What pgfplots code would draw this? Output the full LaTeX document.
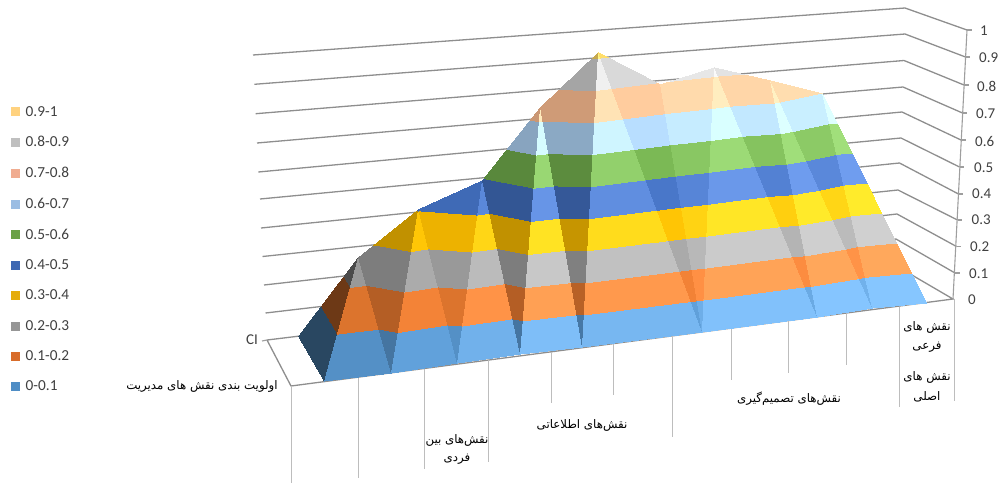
\documentclass[border=0pt]{standalone}
\usepackage{fontspec}
\setmainfont{Carlito}
\newfontfamily\arabicfont[Script=Arabic]{DejaVu Sans}
\TeXXeTstate=1
\usepackage{pgfplots}
\pgfplotsset{compat=1.18}
\definecolor{gridc}{HTML}{8E8E8E}
\definecolor{dropc}{HTML}{BDBDBD}
\definecolor{txt}{HTML}{404040}
\makeatletter
\def\addc#1#2#3#4{%
 \pgfmathtruncatemacro\cR{min(255,#2*\cmM+\cmA)}%
 \pgfmathtruncatemacro\cG{min(255,#3*\cmM+\cmA)}%
 \pgfmathtruncatemacro\cB{min(255,#4*\cmM+\cmA)}%
 \xdef\cmstr{\cmstr rgb255(#1)=(\cR,\cG,\cB) }}
\def\mkcm#1#2#3{\def\cmM{#2}\def\cmA{#3}\gdef\cmstr{}%
 \addc{0}{91}{155}{213}\addc{1}{237}{125}{49}\addc{2}{165}{165}{165}%
 \addc{3}{255}{192}{0}\addc{4}{68}{114}{196}\addc{5}{118}{180}{80}%
 \addc{6}{179}{217}{252}\addc{7}{266}{199}{153}\addc{8}{212}{212}{212}%
 \addc{9}{255}{217}{102}\addc{10}{255}{217}{102}%
 \edef\tmp{\noexpand\pgfplotsset{colormap={#1}{\cmstr}}}\tmp}
\makeatother
\mkcm{Ta}{0.46}{0}
\mkcm{Tb}{0.93}{0}
\mkcm{Tc}{0.76}{0}
\mkcm{Td}{1}{6}
\mkcm{Te}{0.93}{0}
\mkcm{Tf}{1}{22}
\mkcm{Tg}{0.76}{0}
\mkcm{Th}{1}{35}
\mkcm{Ti}{0.78}{0}
\mkcm{Tj}{1}{28}
\mkcm{Tk}{1}{5}
\mkcm{Tl}{1}{19}
\mkcm{Tm}{1}{38}
\mkcm{Tn}{1}{15}
\mkcm{To}{1}{42}
\mkcm{Tp}{1}{22}
\mkcm{Tq}{1}{43}
\pgfplotsset{
 tri/.style={patch, patch type=triangle, shader=interp, point meta=explicit,
   colormap name=#1, colormap access=piecewise constant, forget plot},
 grd/.style={gridc, line width=1.3pt, no marks, sharp plot, forget plot},
 drp/.style={dropc, line width=1pt, no marks, sharp plot, forget plot},
 axl/.style={color=black!38, line width=1.1pt, no marks, sharp plot, forget plot},
 leg/.style={legend image code/.code={\path[draw=none, fill=#1] (0pt,-4.5pt) rectangle (9pt,4.5pt);\path[draw=none, fill=none] (0pt,0pt) rectangle (12.5pt,0pt);}},
}
\newcommand\fa[1]{{\arabicfont\fontsize{11.8}{13}\selectfont\beginR #1\endR}}
\begin{document}
\begin{tikzpicture}
\useasboundingbox (0,0) rectangle (999pt,483pt);
\begin{axis}[
 at={(0,0)}, anchor=south west, scale only axis, width=999pt, height=483pt,
 xmin=0, xmax=999, ymin=0, ymax=483, y dir=reverse, hide axis, clip=false,
 point meta min=0, point meta max=1,
 legend cell align=left,
 legend style={at={(axis cs:11,104)}, anchor=north west, draw=none, fill=none,
   font=\fontsize{15.3}{16}\selectfont\color{txt}, row sep=14.9pt, inner sep=0pt},
]
% back and side wall gridlines
\addplot[grd] coordinates {(253,55) (905,8) (967,30)};
\addplot[grd] coordinates {(254.3,84.3) (905,34) (965.5,57)};
\addplot[grd] coordinates {(255.7,113.7) (904,60.5) (964,85)};
\addplot[grd] coordinates {(257,143) (903,87) (962.5,113)};
\addplot[grd] coordinates {(258.3,172) (902,112) (961,140)};
\addplot[grd] coordinates {(260,199) (901,138) (959.5,167)};
\addplot[grd] coordinates {(261,228) (899.5,163) (958.5,194)};
\addplot[grd] coordinates {(262.5,256.5) (898,190) (957.5,220)};
\addplot[grd] coordinates {(264,285) (897,214) (956.5,246.5)};
\addplot[grd] coordinates {(265.5,313) (896,239) (955,273)};
\addplot[grd] coordinates {(267,340) (893,264) (953,299) (291,386) (267,340)};
% right axis and its ticks
\addplot[axl] coordinates {(967,30) (953,299)};
\addplot[axl] coordinates {(967,30) (971.5,30)};
\addplot[axl] coordinates {(965.5,57) (970,57)};
\addplot[axl] coordinates {(964,85) (968.5,85)};
\addplot[axl] coordinates {(962.5,113) (967,113)};
\addplot[axl] coordinates {(961,140) (965.5,140)};
\addplot[axl] coordinates {(959.5,167) (964,167)};
\addplot[axl] coordinates {(958.5,194) (963,194)};
\addplot[axl] coordinates {(957.5,220) (962,220)};
\addplot[axl] coordinates {(956.5,246.5) (961,246.5)};
\addplot[axl] coordinates {(955,273) (959.5,273)};
\addplot[axl] coordinates {(267,340) (262,341)};
% category drop lines
\addplot[drp] coordinates {(291,386) (291,483)};
\addplot[drp] coordinates {(358,377) (358,478)};
\addplot[drp] coordinates {(424,368) (424,469)};
\addplot[drp] coordinates {(488,360) (488,462)};
\addplot[drp] coordinates {(551,352) (551,403)};
\addplot[drp] coordinates {(613,344) (613,395)};
\addplot[drp] coordinates {(672,336) (672,437)};
\addplot[drp] coordinates {(731,329) (731,380)};
\addplot[drp] coordinates {(788,321) (788,373)};
\addplot[drp] coordinates {(846,314) (846,365)};
\addplot[drp] coordinates {(899,307) (899,407)};
\addplot[drp] coordinates {(954,299) (954,401)};
% the surface: front points at value 0, back points at their values
\addplot[tri=Ta] coordinates {(324,381) [0] (298,336) [0] (358,257) [0.265]};
\addplot[tri=Tb] coordinates {(324,381) [0] (391,372.5) [0] (358,257) [0.265]};
\addplot[tri=Tc] coordinates {(391,372.5) [0] (358,257) [0.265] (418,209) [0.405]};
\addplot[tri=Td] coordinates {(391,372.5) [0] (457,363) [0] (418,209) [0.405]};
\addplot[tri=Te] coordinates {(457,363) [0] (418,209) [0.405] (482,180) [0.495]};
\addplot[tri=Tf] coordinates {(457,363) [0] (520,354) [0] (482,180) [0.495]};
\addplot[tri=Tg] coordinates {(520,354) [0] (482,180) [0.495] (540,107) [0.745]};
\addplot[tri=Th] coordinates {(520,354) [0] (582,347) [0] (540,107) [0.745]};
\addplot[tri=Ti] coordinates {(582,347) [0] (540,107) [0.745] (598,52) [0.92]};
\addplot[tri=Tj] coordinates {(582,347) [0] (702,332) [0] (598,52) [0.92]};
\addplot[tri=Tk] coordinates {(702,332) [0] (598,52) [0.92] (660,84) [0.795]};
\addplot[tri=Tl] coordinates {(702,332) [0] (660,84) [0.795] (714,67) [0.83]};
\addplot[tri=Tm] coordinates {(702,332) [0] (817,317) [0] (714,67) [0.83]};
\addplot[tri=Tn] coordinates {(817,317) [0] (714,67) [0.83] (770,80) [0.775]};
\addplot[tri=To] coordinates {(817,317) [0] (872,308) [0] (770,80) [0.775]};
\addplot[tri=Tp] coordinates {(872,308) [0] (770,80) [0.775] (822,93) [0.70]};
\addplot[tri=Tq] coordinates {(872,308) [0] (926,303) [0] (822,93) [0.70]};
% legend
\definecolor{la}{HTML}{FFD27F}\definecolor{lb}{HTML}{BFBFBF}\definecolor{lc}{HTML}{F0AC90}
\definecolor{ld}{HTML}{9BBDE3}\definecolor{le}{HTML}{6AA147}\definecolor{lf}{HTML}{3F68B2}
\definecolor{lg}{HTML}{E5AC0B}\definecolor{lh}{HTML}{969696}\definecolor{li}{HTML}{D86C2A}
\definecolor{lj}{HTML}{4F8DC5}
\addlegendimage{leg=la}\addlegendentry{0.9-1}
\addlegendimage{leg=lb}\addlegendentry{0.8-0.9}
\addlegendimage{leg=lc}\addlegendentry{0.7-0.8}
\addlegendimage{leg=ld}\addlegendentry{0.6-0.7}
\addlegendimage{leg=le}\addlegendentry{0.5-0.6}
\addlegendimage{leg=lf}\addlegendentry{0.4-0.5}
\addlegendimage{leg=lg}\addlegendentry{0.3-0.4}
\addlegendimage{leg=lh}\addlegendentry{0.2-0.3}
\addlegendimage{leg=li}\addlegendentry{0.1-0.2}
\addlegendimage{leg=lj}\addlegendentry{0-0.1}
% value labels
\begin{scope}[every node/.style={anchor=west, text=txt, inner sep=0pt, font=\fontsize{15}{16}\selectfont}]
\node at (axis cs:980,31) {1};
\node at (axis cs:979,58) {0.9};
\node at (axis cs:977,86) {0.8};
\node at (axis cs:976,114) {0.7};
\node at (axis cs:975,141) {0.6};
\node at (axis cs:974,168) {0.5};
\node at (axis cs:972,194) {0.4};
\node at (axis cs:971.5,220) {0.3};
\node at (axis cs:970,247) {0.2};
\node at (axis cs:969,274) {0.1};
\node at (axis cs:968,300) {0};
\node at (axis cs:246,340) {CI};
\end{scope}
% category labels
\begin{scope}[every node/.style={anchor=center, text=black, inner sep=0pt}]
\node at (axis cs:202,386) {\fa{اولویت بندی نقش های مدیریت}};
\node at (axis cs:457,440) {\fa{نقش‌های بین}};
\node at (axis cs:457,459) {\fa{فردی}};
\node at (axis cs:582,425) {\fa{نقش‌های اطلاعاتی}};
\node at (axis cs:789,399) {\fa{نقش‌های تصمیم‌گیری}};
\node at (axis cs:927,327) {\fa{نقش های}};
\node at (axis cs:927,347) {\fa{فرعی}};
\node at (axis cs:927,377) {\fa{نقش های}};
\node at (axis cs:927,397) {\fa{اصلی}};
\end{scope}
\end{axis}
\end{tikzpicture}
\end{document}
